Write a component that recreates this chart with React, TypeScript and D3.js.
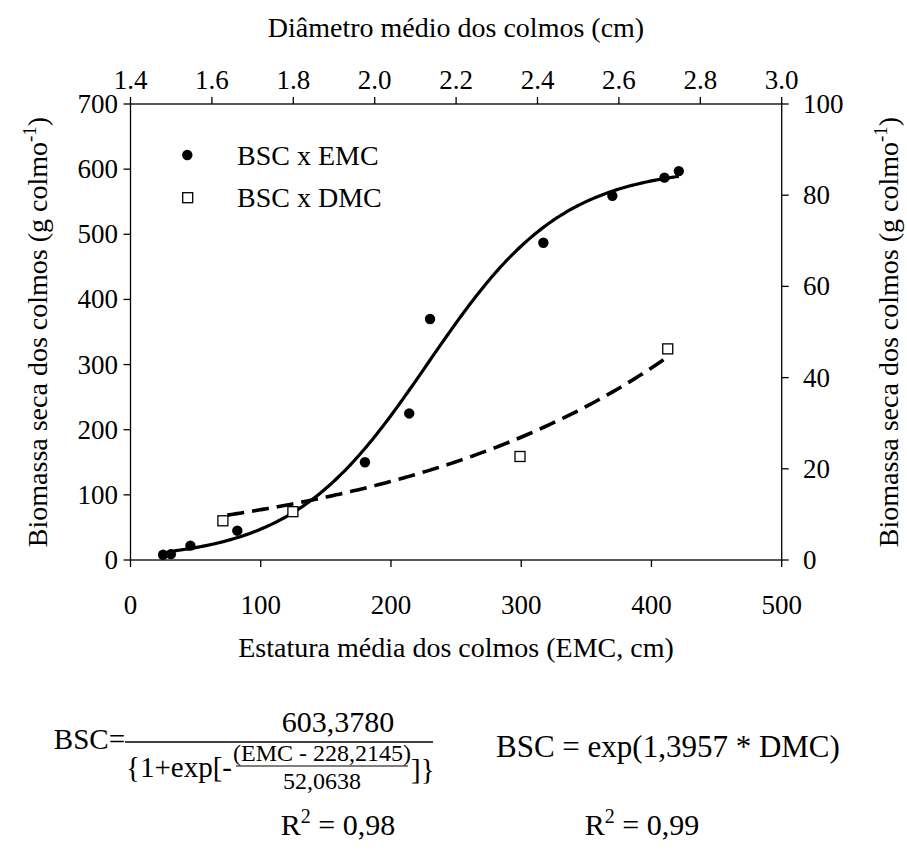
import React from "react";
import * as d3 from "d3";

// Data
const emcX = [25, 31, 46, 82, 180, 214, 230, 317, 370, 410, 421];
const emcY = [8, 9, 22, 45, 150, 225, 370, 487, 559, 587, 597];
const dmcX = [1.627, 1.799, 2.357, 2.72];
const dmcY = [8.6, 10.6, 22.7, 46.3];

// Fitted equation parameters shown in the chart
const sigA = 603.378;
const sigX0 = 228.2145;
const sigB = 52.0638;
const expK = 1.3957;
const sigRange = [31, 421];
const expRange = [1.638, 2.72];

const bottomTicks = [0, 100, 200, 300, 400, 500];
const topTicks = [1.4, 1.6, 1.8, 2.0, 2.2, 2.4, 2.6, 2.8, 3.0];
const leftTicks = [0, 100, 200, 300, 400, 500, 600, 700];
const rightTicks = [0, 20, 40, 60, 80, 100];

const FONT = "Liberation Serif";

export default function App() {
  const L = 130.5, R = 781.7, T = 104, B = 560;
  const xB = d3.scaleLinear().domain([0, 500]).range([L, R]);
  const xT = d3.scaleLinear().domain([1.4, 3.0]).range([L, R]);
  const yL = d3.scaleLinear().domain([0, 700]).range([B, T]);
  const yR = d3.scaleLinear().domain([0, 100]).range([B, T]);
  const tk = 7;

  const sigPts = d3.range(sigRange[0], sigRange[1] + 0.01, 2).map((x) => [
    x,
    sigA / (1 + Math.exp(-(x - sigX0) / sigB)),
  ]);
  const expPts = d3.range(expRange[0], expRange[1] + 0.0001, 0.01).map((x) => [
    x,
    Math.exp(expK * x),
  ]);
  const sigLine = d3
    .line<number[]>()
    .x((d) => xB(d[0]))
    .y((d) => yL(d[1]))
    .curve(d3.curveMonotoneX);
  const expLine = d3
    .line<number[]>()
    .x((d) => xT(d[0]))
    .y((d) => yR(d[1]))
    .curve(d3.curveMonotoneX);

  const fmt1 = d3.format(".1f");
  const ts = { fontFamily: FONT };

  return (
    <svg
      width={907}
      height={861}
      style={{ position: "absolute", left: 0, top: 0, background: "#fff", fontFamily: FONT }}
    >
      <rect x={0} y={0} width={907} height={861} fill="#fff" />
      <rect x={L} y={T} width={R - L} height={B - T} fill="none" stroke="#000" strokeWidth={1.3} />
      {bottomTicks.map((t) => (
        <g key={"b" + t}>
          <line x1={xB(t)} x2={xB(t)} y1={B} y2={B + tk} stroke="#000" strokeWidth={1.3} />
          <text style={ts} x={xB(t)} y={614} fontSize={27} textAnchor="middle">
            {t}
          </text>
        </g>
      ))}
      {topTicks.map((t) => (
        <g key={"t" + t}>
          <line x1={xT(t)} x2={xT(t)} y1={T} y2={T - tk} stroke="#000" strokeWidth={1.3} />
          <text style={ts} x={xT(t)} y={89} fontSize={27} textAnchor="middle">
            {fmt1(t)}
          </text>
        </g>
      ))}
      {leftTicks.map((t) => (
        <g key={"l" + t}>
          <line x1={L - tk} x2={L} y1={yL(t)} y2={yL(t)} stroke="#000" strokeWidth={1.3} />
          <text style={ts} x={118} y={yL(t) + 9} fontSize={27} textAnchor="end">
            {t}
          </text>
        </g>
      ))}
      {rightTicks.map((t) => (
        <g key={"r" + t}>
          <line x1={R} x2={R + tk} y1={yR(t)} y2={yR(t)} stroke="#000" strokeWidth={1.3} />
          <text style={ts} x={803} y={yR(t) + 9} fontSize={27} textAnchor="start">
            {t}
          </text>
        </g>
      ))}

      <text style={ts} x={456} y={37} fontSize={28} textAnchor="middle">
        Diâmetro médio dos colmos (cm)
      </text>
      <text style={ts} x={456} y={657} fontSize={28} textAnchor="middle">
        Estatura média dos colmos (EMC, cm)
      </text>
      <text style={ts} transform="translate(47,332) rotate(-90)" fontSize={28} textAnchor="middle">
        Biomassa seca dos colmos (g colmo
        <tspan dy={-11} fontSize={19}>-1</tspan>
        <tspan dy={11}>)</tspan>
      </text>
      <text style={ts} transform="translate(898,332) rotate(-90)" fontSize={28} textAnchor="middle">
        Biomassa seca dos colmos (g colmo
        <tspan dy={-11} fontSize={19}>-1</tspan>
        <tspan dy={11}>)</tspan>
      </text>

      <path d={expLine(expPts) || ""} fill="none" stroke="#000" strokeWidth={3.6} strokeDasharray="17 8" />
      <path d={sigLine(sigPts) || ""} fill="none" stroke="#000" strokeWidth={3.2} />

      {emcX.map((x, i) => (
        <circle key={"e" + i} cx={xB(x)} cy={yL(emcY[i])} r={5.2} fill="#000" />
      ))}
      {dmcX.map((x, i) => (
        <rect
          key={"d" + i}
          x={xT(x) - 5}
          y={yR(dmcY[i]) - 5}
          width={10}
          height={10}
          fill="#fff"
          stroke="#000"
          strokeWidth={1.3}
        />
      ))}

      <circle cx={187.3} cy={155} r={5.2} fill="#000" />
      <text style={ts} x={237} y={165} fontSize={28}>
        BSC x EMC
      </text>
      <rect x={182.7} y={192.7} width={10} height={10} fill="#fff" stroke="#000" strokeWidth={1.3} />
      <text style={ts} x={237} y={207} fontSize={28}>
        BSC x DMC
      </text>

      <g>
        <text style={ts} fontSize={29} x={125} y={749} textAnchor="end">BSC=</text>
        <line x1={125} x2={433} y1={742} y2={742} stroke="#000" strokeWidth={1.3} />
        <text style={ts} fontSize={30} x={338} y={732} textAnchor="middle">603,3780</text>
        <text style={ts} fontSize={29} x={126} y={777}>{"{1+exp[-"}</text>
        <text style={ts} fontSize={24} x={322} y={761} textAnchor="middle">(EMC - 228,2145)</text>
        <line x1={236} x2={408} y1={766} y2={766} stroke="#000" strokeWidth={1.2} />
        <text style={ts} fontSize={24} x={322} y={789} textAnchor="middle">52,0638</text>
        <text style={ts} fontSize={29} x={411} y={779}>{"]}"}</text>
        <text style={ts} fontSize={31} x={496} y={757}>BSC = exp(1,3957 * DMC)</text>
        <text style={ts} fontSize={30} x={338} y={835} textAnchor="middle">
          R<tspan dy={-12} fontSize={20}>2</tspan>
          <tspan dy={12}> = 0,98</tspan>
        </text>
        <text style={ts} fontSize={30} x={642} y={835} textAnchor="middle">
          R<tspan dy={-12} fontSize={20}>2</tspan>
          <tspan dy={12}> = 0,99</tspan>
        </text>
      </g>
    </svg>
  );
}
